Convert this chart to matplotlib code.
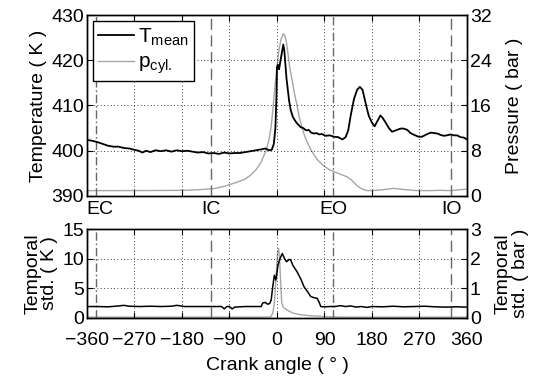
import numpy as np
import matplotlib
matplotlib.use('Agg')
import matplotlib.pyplot as plt
import matplotlib.transforms as mtransforms

plt.rcParams['font.family'] = ['Liberation Sans', 'DejaVu Sans']
plt.rcParams['font.size'] = 14
plt.rcParams['mathtext.fontset'] = 'custom'
plt.rcParams['mathtext.rm'] = 'Liberation Sans'
plt.rcParams['mathtext.it'] = 'Liberation Sans'

# mean temperature (K) over crank angle
ang_T = [-360, -350, -340, -330, -320, -310, -300, -290, -280, -270, -262, -255, -248, -240,
         -230, -220, -210, -200, -190, -180, -170, -160, -150, -140, -130, -120, -110, -100,
         -90, -80, -70, -60, -50, -40, -30, -22, -15, -10, -6, -3, -1, 0, 2, 4, 6, 9, 12, 14,
         16, 18, 20, 23, 26, 30, 35, 40, 45, 50, 55, 60, 65, 70, 75, 80, 85, 92, 100, 108, 116,
         124, 130, 135, 140, 146, 152, 157, 162, 166, 170, 174, 180, 185, 190, 196, 200, 206,
         212, 218, 225, 234, 240, 247, 253, 260, 268, 275, 283, 291, 298, 304, 310, 316, 322,
         329, 335, 341, 348, 354, 360]
T_mean = [402.4, 402.2, 401.9, 401.5, 401.1, 400.9, 400.9, 400.6, 400.5, 400.2, 400.0, 399.6,
          400.0, 399.7, 400.1, 399.9, 400.1, 399.8, 400.1, 399.9, 400.0, 399.8, 399.6, 399.7,
          399.4, 399.5, 399.3, 399.6, 399.4, 399.5, 399.5, 399.7, 399.9, 400.1, 400.3, 400.5,
          400.1, 400.2, 401.5, 405.0, 412.0, 418.5, 419.0, 418.0, 419.5, 421.5, 423.5, 422.0,
          419.0, 416.0, 414.0, 411.0, 409.0, 407.5, 406.5, 405.8, 405.2, 405.0, 404.5, 404.6,
          404.0, 403.8, 403.9, 403.6, 403.7, 403.3, 403.4, 403.1, 403.0, 402.5, 403.0, 404.5,
          408.0, 411.5, 413.5, 414.1, 413.5, 411.5, 409.5, 407.7, 406.2, 405.4, 406.5, 407.8,
          407.3, 406.2, 405.0, 404.2, 404.5, 404.9, 404.9, 404.6, 403.9, 403.5, 403.1, 403.1,
          403.6, 404.0, 403.9, 403.8, 403.5, 403.3, 403.4, 403.6, 403.4, 403.4, 403.0, 402.9,
          402.5]

# cylinder pressure (bar)
ang_p = [-360, -300, -240, -180, -150, -120, -100, -80, -60, -50, -40, -30, -21, -15, -11, -8,
         -5, -2, 1, 4, 8, 12, 15, 18, 21, 24, 29, 33, 38, 42, 47, 51, 55, 60, 64, 70, 76, 83,
         92, 100, 108, 116, 124, 133, 140, 146, 152, 158, 165, 171, 180, 200, 221, 240, 265,
         290, 310, 329, 345, 360]
p_cyl = [0.95, 0.95, 0.97, 1.0, 1.1, 1.3, 1.7, 2.3, 3.0, 3.7, 4.6, 6.0, 8.0, 10.0, 12.4, 15.0,
         18.3, 21.0, 23.7, 26.0, 27.8, 28.7, 28.3, 27.2, 25.0, 22.8, 20.3, 18.2, 16.0, 14.0,
         12.3, 11.0, 10.0, 9.0, 8.2, 7.3, 6.5, 5.8, 5.1, 4.6, 4.3, 4.0, 3.7, 3.4, 2.9, 2.4,
         1.8, 1.4, 1.1, 0.95, 0.95, 1.1, 1.35, 1.15, 0.95, 0.95, 1.0, 0.95, 1.1, 1.2]

# temporal std of temperature (K)
ang_sT = [-360, -340, -320, -300, -290, -280, -260, -240, -220, -200, -190, -175, -150, -120,
          -105, -100, -95, -90, -85, -80, -60, -40, -30, -27, -22, -18, -14, -11, -8, -5, -2,
          2, 6, 10, 14, 18, 23, 26, 30, 38, 45, 51, 58, 64, 70, 76, 80, 83, 90, 100, 110, 120,
          130, 140, 150, 160, 170, 180, 200, 220, 240, 260, 280, 300, 320, 340, 360]
std_T = [1.9, 1.9, 1.85, 2.0, 2.1, 1.95, 1.9, 1.95, 1.9, 1.95, 2.1, 1.9, 1.9, 1.9, 1.9, 1.5,
         1.9, 1.9, 1.5, 1.8, 1.9, 1.9, 1.9, 2.5, 2.6, 2.3, 2.4, 3.0, 5.3, 7.2, 6.4, 9.0, 10.1,
         10.9, 10.1, 9.5, 9.9, 9.8, 8.9, 7.8, 6.6, 5.3, 4.4, 3.6, 3.4, 3.3, 2.6, 1.9, 1.85,
         1.9, 1.9, 2.05, 1.9, 2.0, 1.8, 1.9, 1.75, 1.9, 1.85, 1.95, 1.85, 1.9, 1.95, 1.85,
         1.8, 1.85, 1.8]

# temporal std of pressure (bar)
ang_sp = [-360, -20, -12, -8, -5, -3, -1, 1, 3, 5, 7, 9, 12, 20, 30, 45, 60, 90, 120, 360]
std_p = [0.02, 0.02, 0.03, 0.15, 0.5, 1.0, 1.6, 2.2, 2.35, 2.0, 1.2, 0.5, 0.35, 0.25, 0.16,
         0.1, 0.07, 0.04, 0.02, 0.02]

# valve events
events = ['EC', 'IC', 'EO', 'IO']
event_ang = [-343, -125, 107, 330]
event_style = [(0, (6, 2, 1.2, 2)), (0, (8, 4)), (0, (6, 2, 1.2, 2)), (0, (8, 4))]

xticks = [-360, -270, -180, -90, 0, 90, 180, 270, 360]

fig = plt.figure(figsize=(5.38, 3.81), dpi=100)
ax1 = fig.add_axes([0.1617, 0.4856, 0.7063, 0.475])
ax1r = ax1.twinx()
ax2 = fig.add_axes([0.1617, 0.1661, 0.7063, 0.2319])
ax2r = ax2.twinx()

def style(ax, axr):
	ax.set_zorder(axr.get_zorder() + 1)
	ax.patch.set_visible(False)
	ax.set_xlim(-360, 360)
	ax.set_xticks(xticks)
	ax.grid(True, color='black', linestyle=(0, (1, 3)), linewidth=0.6)
	ax.tick_params(direction='in', length=4, top=True, width=0.8, pad=2)
	axr.tick_params(direction='in', length=4, width=0.8, pad=2)
	for a in (ax, axr):
		for s in a.spines.values():
			s.set_linewidth(1.0)
	for a, st in zip(event_ang, event_style):
		ax.axvline(a, color='0.4', linestyle=st, linewidth=1.0, zorder=1)

# top panel
l1, = ax1.plot(ang_T, T_mean, color='black', linewidth=1.3, zorder=3, label=r'$\mathregular{T_{mean}}$')
l2, = ax1r.plot(ang_p, p_cyl, color='0.65', linewidth=1.0, label=r'$\mathregular{p_{cyl.}}$')
ax1.set_ylim(390, 430)
ax1.set_yticks([390, 400, 410, 420, 430])
ax1r.set_ylim(0, 32)
ax1r.set_yticks([0, 8, 16, 24, 32])
style(ax1, ax1r)
ax1.set_xticklabels([])
ax1.set_ylabel('Temperature ( K )', labelpad=3)
ax1r.set_ylabel('Pressure ( bar )', labelpad=10)
leg = ax1.legend(handles=[l1, l2], loc='upper left', fancybox=False, framealpha=1,
                 edgecolor='black', handlelength=1.7, handletextpad=0.2, borderpad=0.25,
                 labelspacing=0.25, borderaxespad=0.3, fontsize=15)
leg.get_frame().set_linewidth(1.0)

# event labels between panels
trans = mtransforms.blended_transform_factory(ax1.transData, ax1.transAxes)
for name, a in zip(events, event_ang):
	xa = a + 8 if name == 'EC' else a
	ax1.text(xa, -0.03, name, transform=trans, ha='center', va='top')

# bottom panel
ax2.plot(ang_sT, std_T, color='black', linewidth=1.1, zorder=3)
ax2r.plot(ang_sp, std_p, color='0.65', linewidth=1.0)
ax2.set_ylim(0, 15)
ax2.set_yticks([0, 5, 10, 15])
ax2r.set_ylim(0, 3)
ax2r.set_yticks([0, 1, 2, 3])
style(ax2, ax2r)
ax2.set_xticklabels(['\u2212360', '\u2212270', '\u2212180', '\u221290', '0', '90', '180', '270', '360'])
ax2.set_ylabel('Temporal\nstd. ( K )', labelpad=3, linespacing=1.0)
ax2r.set_ylabel('Temporal\nstd. ( bar )', labelpad=10, linespacing=1.0)
ax2.set_xlabel('Crank angle ( \u00b0 )', labelpad=6)
ax2.tick_params(axis='x', pad=10)

fig.savefig('out.png', dpi=100)
